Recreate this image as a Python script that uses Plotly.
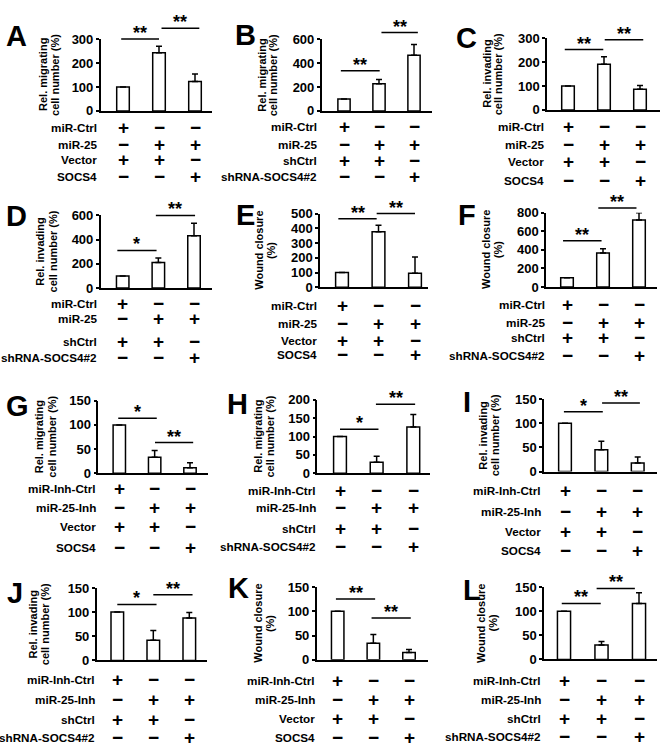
import plotly.graph_objects as go

W, H = 662, 756
FONT = "Liberation Sans, Arial, sans-serif"

# ------------------------- data -------------------------
values_A = [100, 243, 123]; errors_A = [0, 27, 31]
values_B = [100, 226, 464]; errors_B = [0, 36, 90]
values_C = [100, 191, 86];  errors_C = [0, 31, 16]
values_D = [100, 211, 432]; errors_D = [0, 38, 103]
values_E = [100, 376, 95];  errors_E = [0, 44, 110]
values_F = [100, 366, 722]; errors_F = [0, 46, 78]
values_G = [100, 33, 11.5]; errors_G = [0, 14, 10]
values_H = [100, 30, 126];  errors_H = [0, 16, 34]
values_I = [100, 45, 18];   errors_I = [0, 18, 12]
values_J = [100, 42, 88];   errors_J = [0, 20, 11]
values_K = [100, 34, 15];   errors_K = [0, 18, 6]
values_L = [100, 30, 116];  errors_L = [0, 7, 22]

ticks_A = [0, 100, 200, 300]
ticks_B = [0, 200, 400, 600]
ticks_C = [0, 100, 200, 300]
ticks_D = [0, 200, 400, 600]
ticks_E = [0, 100, 200, 300, 400, 500]
ticks_F = [0, 200, 400, 600, 800]
ticks_G = [0, 50, 100, 150]
ticks_H = [0, 50, 100, 150, 200]
ticks_I = [0, 50, 100, 150]
ticks_J = [0, 50, 100, 150]
ticks_K = [0, 50, 100, 150]
ticks_L = [0, 50, 100, 150]

# significance brackets: (from group, to group, level, label)
signif_A = [(-0.05, 1.00, 300, "**"), (1.07, 2.12, 345, "**")]
signif_B = [(-0.09, 1.02, 335, "**"), (1.07, 2.11, 654, "**")]
signif_C = [(-0.09, 0.98, 252, "**"), (1.02, 2.09, 293, "**")]
signif_D = [(-0.15, 0.95, 311, "*"), (0.93, 2.03, 600, "**")]
signif_E = [(-0.10, 0.95, 465, "**"), (0.95, 2.00, 500, "**")]
signif_F = [(-0.11, 0.96, 500, "**"), (0.87, 1.93, 852, "**")]
signif_G = [(-0.03, 1.06, 114, "*"), (1.01, 2.09, 63.5, "**")]
signif_H = [(0.00, 1.05, 120, "*"), (0.98, 2.05, 188, "**")]
signif_I = [(-0.03, 1.04, 124, "*"), (1.02, 2.06, 142, "**")]
signif_J = [(0.00, 1.09, 116, "*"), (1.00, 2.09, 136, "**")]
signif_K = [(-0.05, 1.05, 125, "**"), (0.95, 2.05, 86, "**")]
signif_L = [(-0.06, 0.98, 116, "**"), (0.87, 1.89, 147, "**")]

rows_mir_vec = ["miR-Ctrl", "miR-25", "Vector", "SOCS4"]
rows_mir_sh = ["miR-Ctrl", "miR-25", "shCtrl", "shRNA-SOCS4#2"]
rows_inh_vec = ["miR-Inh-Ctrl", "miR-25-Inh", "Vector", "SOCS4"]
rows_inh_sh = ["miR-Inh-Ctrl", "miR-25-Inh", "shCtrl", "shRNA-SOCS4#2"]
row_signs = [["+", "−", "−"], ["−", "+", "+"], ["+", "+", "−"], ["−", "−", "+"]]

title_migr = ["Rel. migrating", "cell number (%)"]
title_inv = ["Rel. invading", "cell number (%)"]
title_wound = ["Wound closure", "(%)"]

groups = [0, 1, 2]

panel_data = {
    "A": (values_A, errors_A, ticks_A, signif_A, rows_mir_vec, title_migr),
    "B": (values_B, errors_B, ticks_B, signif_B, rows_mir_sh, title_migr),
    "C": (values_C, errors_C, ticks_C, signif_C, rows_mir_vec, title_inv),
    "D": (values_D, errors_D, ticks_D, signif_D, rows_mir_sh, title_inv),
    "E": (values_E, errors_E, ticks_E, signif_E, rows_mir_vec, title_wound),
    "F": (values_F, errors_F, ticks_F, signif_F, rows_mir_sh, title_wound),
    "G": (values_G, errors_G, ticks_G, signif_G, rows_inh_vec, title_migr),
    "H": (values_H, errors_H, ticks_H, signif_H, rows_inh_sh, title_migr),
    "I": (values_I, errors_I, ticks_I, signif_I, rows_inh_vec, title_inv),
    "J": (values_J, errors_J, ticks_J, signif_J, rows_inh_sh, title_inv),
    "K": (values_K, errors_K, ticks_K, signif_K, rows_inh_vec, title_wound),
    "L": (values_L, errors_L, ticks_L, signif_L, rows_inh_sh, title_wound),
}

# ------------------------- layout geometry (pixels) -------------------------
geo = {
    "A": dict(yx=100.7, xend=212, b0=123, b2=195, p0=106, pt=32.7, rows=[122.7, 140.7, 156, 172.7], lab=99, t1=43, t2=55, lx=16, ly=30),
    "B": dict(yx=321.7, xend=432, b0=344, b2=414, p0=106, pt=32.7, rows=[121.7, 140, 156.7, 172.7], lab=319, t1=261.7, t2=273.3, lx=245, ly=29),
    "C": dict(yx=547, xend=660, b0=568, b2=640, p0=105, pt=31.7, rows=[121.7, 140, 158, 176.7], lab=546, t1=486.7, t2=498.3, lx=466, ly=32),
    "D": dict(yx=100.7, xend=212, b0=122.7, b2=194, p0=286.7, pt=212.7, rows=[302.7, 318, 341.7, 357.7], lab=99, t1=40, t2=52.7, lx=16, ly=213),
    "E": dict(yx=320, xend=428, b0=342, b2=415, p0=286, pt=210.7, rows=[305, 323.3, 340, 355], lab=319, t1=259.3, t2=271.7, lx=245, ly=212),
    "F": dict(yx=546, xend=657, b0=567, b2=639, p0=285.7, pt=210, rows=[304, 322.3, 337.3, 355.7], lab=547, t1=486, t2=498.3, lx=467, ly=212),
    "G": dict(yx=98.3, xend=208, b0=119.3, b2=190, p0=475.7, pt=401.7, rows=[491.7, 511, 530, 551], lab=97.7, t1=39.3, t2=51.7, lx=17, ly=407),
    "H": dict(yx=317.3, xend=430, b0=340, b2=413.3, p0=475.7, pt=400.7, rows=[493.3, 510.7, 531.7, 550.7], lab=317.7, t1=257.3, t2=270, lx=237, ly=405),
    "I": dict(yx=544, xend=657, b0=565, b2=637.7, p0=474, pt=400, rows=[493.3, 515, 535, 554.3], lab=542.7, t1=483.3, t2=495, lx=467, ly=403),
    "J": dict(yx=96.7, xend=207, b0=117.3, b2=189.3, p0=666.7, pt=592.7, rows=[686, 706.7, 726.7, 745], lab=97.3, t1=33.3, t2=45, lx=15, ly=598),
    "K": dict(yx=316.7, xend=428, b0=337.7, b2=409, p0=666, pt=591.7, rows=[686.7, 706.7, 726, 745.7], lab=316.7, t1=258.3, t2=270.7, lx=238, ly=593),
    "L": dict(yx=544, xend=657, b0=564, b2=639, p0=665.7, pt=591.7, rows=[687.3, 706.7, 725.7, 744], lab=543.3, t1=481.7, t2=493.3, lx=472, ly=595),
}

fig = go.Figure()
annotations = []
shapes = []
layout_axes = {}


def py(px):
    return 1 - px / H


def px_(x):
    return x / W


for i, key in enumerate("ABCDEFGHIJKL"):
    vals, errs, ticks, signif, rows, title = panel_data[key]
    g = geo[key]
    n = "" if i == 0 else str(i + 1)
    xa, ya = "x" + n, "y" + n
    d = (g["b2"] - g["b0"]) / 2.0
    xr = [(g["yx"] - g["b0"]) / d, (g["xend"] - g["b0"]) / d]
    top = ticks[-1]

    fig.add_trace(go.Bar(
        x=groups, y=vals, width=0.35, xaxis=xa, yaxis=ya,
        marker=dict(color="white", line=dict(color="black", width=1.5)),
        error_y=dict(type="data", symmetric=False, array=errs, arrayminus=[0] * len(errs),
                     color="black", thickness=1.5, width=3, visible=True),
        showlegend=False, hoverinfo="skip",
    ))

    layout_axes["xaxis" + n] = dict(
        domain=[px_(g["yx"]), px_(g["xend"])], range=xr, anchor=ya,
        showline=True, linecolor="black", linewidth=1.5, showticklabels=False,
        ticks="", showgrid=False, zeroline=False, fixedrange=True,
    )
    layout_axes["yaxis" + n] = dict(
        domain=[py(g["p0"]), py(g["pt"])], range=[0, top], anchor=xa,
        tickvals=ticks, ticktext=[str(t) for t in ticks],
        showline=True, linecolor="black", linewidth=1.5,
        ticks="outside", ticklen=3, tickwidth=1.5, tickcolor="black",
        showgrid=False, zeroline=False, fixedrange=True,
        tickfont=dict(family=FONT, size=13, color="black", weight="bold"),
    )

    # significance brackets
    for (x0, x1, lvl, lab) in signif:
        shapes.append(dict(type="line", xref=xa, yref=ya + " domain",
                           x0=x0, x1=x1, y0=lvl / top, y1=lvl / top,
                           line=dict(color="black", width=1.5)))
        annotations.append(dict(text=lab, xref=xa, yref=ya + " domain",
                                x=(x0 + x1) / 2, y=lvl / top, showarrow=False,
                                xanchor="center", yanchor="bottom", yshift=-6,
                                font=dict(family=FONT, size=18, color="black", weight="bold")))

    # condition table
    for r, (lab, signs) in enumerate(zip(rows, row_signs)):
        yy = py(g["rows"][r])
        annotations.append(dict(text=lab, xref="paper", yref="paper", x=px_(g["lab"]), y=yy,
                                xanchor="right", yanchor="middle", showarrow=False,
                                font=dict(family=FONT, size=11.7, color="black", weight="bold")))
        for gi, s in zip(groups, signs):
            annotations.append(dict(text=s, xref=xa, yref="paper", x=gi, y=yy,
                                    xanchor="center", yanchor="middle", showarrow=False,
                                    font=dict(family=FONT, size=19, color="black", weight="bold")))

    # y-axis title (two lines)
    yc = py((g["p0"] + g["pt"]) / 2)
    for tx, line in zip([g["t1"], g["t2"]], title):
        annotations.append(dict(text=line, xref="paper", yref="paper", x=px_(tx), y=yc,
                                textangle=-90, xanchor="center", yanchor="middle", showarrow=False,
                                font=dict(family=FONT, size=11, color="black", weight="bold")))

    # panel letter
    annotations.append(dict(text=key, xref="paper", yref="paper", x=px_(g["lx"]), y=py(g["ly"]),
                            xanchor="center", yanchor="middle", showarrow=False,
                            font=dict(family=FONT, size=29, color="black", weight="bold")))

fig.update_layout(
    width=W, height=H, margin=dict(l=0, r=0, t=0, b=0),
    paper_bgcolor="white", plot_bgcolor="white",
    annotations=annotations, shapes=shapes, bargap=0.3,
    **layout_axes,
)

fig.write_html("out.html", config={"displayModeBar": False},
               post_script="document.body.style.margin='0px';")
